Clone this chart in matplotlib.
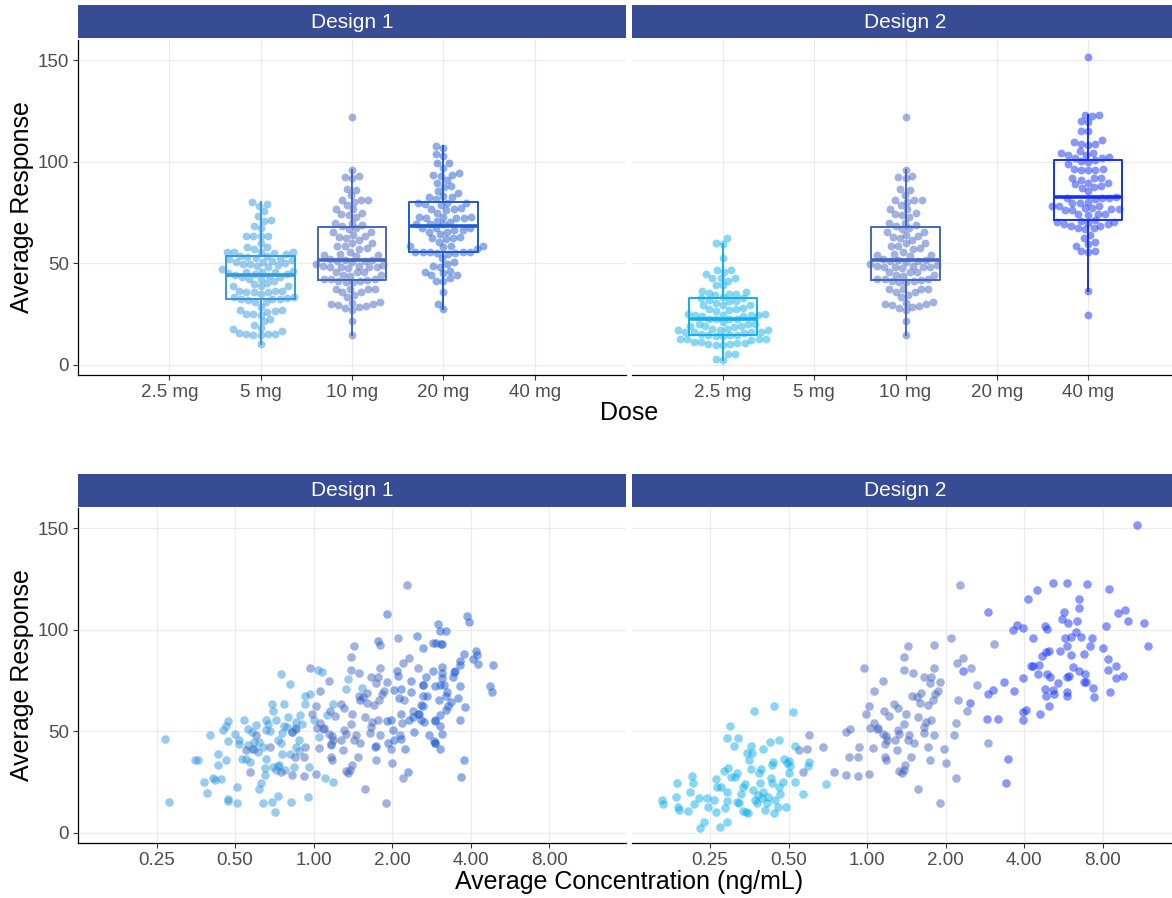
import numpy as np
import matplotlib.pyplot as plt

plt.rcParams['font.family'] = ['Liberation Sans', 'DejaVu Sans']

doses = ['2.5 mg', '5 mg', '10 mg', '20 mg', '40 mg']
dose_colors = {'2.5 mg': '#11AEEB', '5 mg': '#3399DD', '10 mg': '#4466C0',
               '20 mg': '#1E5BCF', '40 mg': '#1530F5'}

# Design 1, 5 mg
conc_5mg = [0.27, 0.28, 0.35, 0.36, 0.38, 0.39, 0.40, 0.41, 0.42, 0.44, 0.43, 0.43, 0.46, 0.45,
            0.46, 0.47, 0.47, 0.47, 0.47, 0.51, 0.51, 0.52, 0.52, 0.53, 0.54, 0.55, 0.56, 0.57,
            0.58, 0.59, 0.61, 0.62, 0.62, 0.63, 0.64, 0.65, 0.65, 0.66, 0.66, 0.67, 0.69, 0.69,
            0.70, 0.71, 0.72, 0.73, 0.73, 0.73, 0.74, 0.75, 0.75, 0.76, 0.77, 0.77, 0.78, 0.80,
            0.81, 0.81, 0.82, 0.83, 0.84, 0.86, 0.86, 0.88, 0.89, 0.93, 0.93, 0.95, 0.96, 0.97,
            1.04, 1.08, 1.35, 1.33, 1.54, 1.19, 1.13, 1.00, 1.05, 1.17, 1.11, 1.19,
            0.50, 0.56, 0.60, 0.64, 0.68, 0.72, 0.79, 0.85, 0.90, 0.58, 0.66, 0.76, 0.88, 0.70]
resp_5mg = [46.4, 15.3, 35.8, 36.1, 25.2, 19.8, 48.0, 26.8, 26.0, 26.3, 38.6, 33.3, 35.8, 50.8,
            52.5, 55.0, 45.3, 16.5, 15.8, 22.7, 14.5, 45.9, 44.0, 36.6, 55.4, 36.6, 43.1, 35.0,
            49.7, 44.8, 39.9, 44.8, 21.4, 24.7, 14.5, 28.4, 31.7, 36.6, 55.4, 53.8, 15.3, 63.6,
            32.5, 10.4, 30.9, 32.8, 18.1, 45.9, 33.3, 44.5, 78.3, 38.7, 63.6, 52.5, 30.9, 57.0,
            73.4, 38.7, 15.3, 49.7, 32.5, 54.4, 42.3, 45.9, 57.8, 67.6, 63.6, 17.5, 32.5, 68.5,
            80.2, 79.1, 75.8, 70.9, 71.2, 63.6, 57.8, 55.4, 47.2, 43.1, 26.8, 25.2,
            48.5, 51.0, 53.0, 42.5, 50.0, 55.8, 52.0, 51.5, 53.5, 41.5, 50.5, 49.0, 40.5, 60.0]

# 10 mg (same in both designs)
conc_10mg = [0.60, 0.55, 0.59, 0.57, 0.68, 0.75, 0.83, 0.83, 0.86, 0.85, 0.92, 0.93, 0.92, 0.97,
             1.02, 1.05, 1.03, 1.06, 1.02, 0.99, 1.06, 1.09, 1.10, 1.15, 1.16, 1.15, 1.18, 1.17,
             1.19, 1.21, 1.17, 1.18, 1.27, 1.28, 1.30, 1.31, 1.31, 1.33, 1.33, 1.36, 1.38, 1.39,
             1.39, 1.41, 1.43, 1.43, 1.39, 1.40, 1.45, 1.48, 1.49, 1.50, 1.51, 1.55, 1.57, 1.57,
             1.80, 2.10, 2.28, 1.66, 1.76, 1.74, 1.80, 1.91, 1.87, 1.83, 1.79, 1.71, 1.61, 1.60,
             1.76, 1.68, 1.66, 1.65, 1.80, 1.72, 1.98, 1.74, 2.00, 2.21, 2.33, 2.51, 2.23, 2.41,
             2.63, 2.19, 2.15, 2.91, 3.08, 2.20, 1.90]
resp_10mg = [48.0, 41.0, 41.5, 30.0, 42.3, 30.0, 28.4, 49.7, 51.3, 37.4, 37.4, 42.3, 27.9, 81.2,
             28.9, 41.8, 51.8, 69.8, 62.3, 58.3, 54.1, 51.3, 51.8, 74.7, 60.0, 48.5, 47.5, 44.0,
             45.6, 57.4, 37.4, 35.8, 63.6, 45.6, 40.7, 61.6, 50.8, 48.9, 30.5, 29.3, 31.2, 80.2,
             86.4, 58.3, 91.8, 45.6, 53.8, 33.3, 48.0, 37.4, 67.2, 78.8, 44.5, 66.8, 57.0, 21.4,
             92.5, 95.8, 122.0, 76.6, 76.6, 73.7, 81.2, 74.2, 70.1, 68.5, 65.5, 63.2, 68.8, 63.9,
             55.7, 54.6, 52.1, 49.3, 48.0, 42.3, 41.5, 35.8, 34.5, 83.5, 86.1, 81.2, 65.2, 60.0,
             73.0, 54.1, 48.4, 44.3, 93.0, 26.8, 14.8]

# Design 1, 20 mg
conc_20mg = [2.64, 2.86, 2.95, 3.10, 2.99, 3.06, 3.22, 3.87, 3.94, 3.79, 4.20, 4.08, 4.24, 4.26,
             3.63, 3.66, 3.47, 3.42, 3.10, 3.10, 3.10, 3.17, 3.06, 2.91, 2.86, 2.70, 2.64, 2.62,
             2.73, 2.58, 2.62, 2.54, 2.51, 2.58, 2.66, 2.91, 2.93, 3.06, 3.22, 3.27, 3.37, 3.59,
             3.63, 3.81, 3.66, 3.24, 3.22, 3.04, 3.06, 3.10, 2.89, 2.93, 3.06, 2.76, 3.79, 3.68,
             4.89, 4.76, 4.82, 3.50, 1.91, 2.49, 1.77, 2.09, 2.11, 2.36, 2.16, 2.04, 2.13, 2.36,
             2.33, 2.40, 2.16, 1.98, 1.91, 1.51, 1.73, 1.93, 2.04, 2.16, 2.01, 2.24, 2.30, 2.43]
resp_20mg = [91.0, 93.3, 93.3, 93.0, 103.1, 99.2, 99.5, 106.9, 103.9, 88.1, 89.4, 85.6, 87.7, 83.2,
             84.8, 82.7, 79.1, 77.0, 81.5, 78.6, 76.3, 73.0, 73.0, 72.5, 79.9, 76.6, 73.0, 67.2,
             67.6, 63.2, 62.4, 58.3, 58.3, 55.7, 54.6, 55.7, 55.0, 57.8, 60.6, 62.3, 64.4, 66.5,
             72.5, 61.9, 55.7, 69.3, 67.2, 65.5, 52.5, 48.9, 45.2, 44.3, 41.5, 48.4, 35.8, 27.6,
             82.7, 72.5, 69.3, 79.9, 107.7, 97.1, 94.6, 79.9, 77.5, 75.0, 70.9, 70.4, 66.5, 69.3,
             55.7, 57.0, 58.3, 55.7, 55.0, 65.5, 42.6, 44.3, 45.6, 46.4, 50.5, 41.5, 30.0, 49.7]

# Design 2, 2.5 mg
conc_2_5mg = [0.163, 0.165, 0.185, 0.187, 0.188, 0.19, 0.206, 0.209, 0.213, 0.216, 0.217, 0.226,
              0.229, 0.238, 0.243, 0.245, 0.259, 0.264, 0.264, 0.266, 0.272, 0.275, 0.283, 0.285,
              0.29, 0.291, 0.291, 0.294, 0.297, 0.291, 0.30, 0.31, 0.312, 0.316, 0.319, 0.318,
              0.322, 0.33, 0.334, 0.335, 0.341, 0.344, 0.348, 0.351, 0.354, 0.359, 0.359, 0.363,
              0.368, 0.366, 0.372, 0.377, 0.383, 0.386, 0.389, 0.391, 0.395, 0.398, 0.40, 0.406,
              0.412, 0.418, 0.424, 0.428, 0.431, 0.433, 0.437, 0.44, 0.44, 0.444, 0.457, 0.461,
              0.461, 0.464, 0.477, 0.48, 0.487, 0.492, 0.50, 0.502, 0.506, 0.52, 0.528, 0.528,
              0.566, 0.595, 0.599, 0.695]
resp_2_5mg = [16.2, 14.1, 17.8, 24.7, 12.9, 11.3, 10.8, 20.2, 27.9, 24.7, 14.1, 17.3,
              2.6, 5.5, 17.3, 12.9, 16.2, 26.3, 10.1, 22.7, 3.1, 22.7, 30.4, 12.1,
              5.1, 20.2, 15.7, 31.7, 52.6, 46.9, 27.6, 42.6, 27.6, 29.3, 46.9, 15.0,
              14.5, 19.0, 10.8, 22.7, 23.9, 10.4, 39.1, 9.9, 36.1, 42.6, 31.4, 39.5,
              59.8, 21.1, 16.2, 14.5, 18.6, 29.3, 24.7, 31.4, 17.3, 20.2, 41.5, 11.3,
              14.5, 17.8, 44.8, 26.8, 24.7, 33.3, 35.0, 62.3, 9.9, 16.2, 12.9, 22.7,
              45.9, 19.1, 25.2, 36.6, 12.9, 34.2, 29.6, 35.4, 32.8, 59.3, 42.6, 25.2,
              19.1, 32.8, 35.0, 24.0]

# Design 2, 40 mg
conc_40mg = [10.8, 2.92, 4.13, 4.49, 5.18, 5.84, 7.0, 8.48, 6.51, 6.47, 5.70, 5.59, 5.91, 6.41,
             4.83, 4.89, 3.75, 3.62, 3.95, 4.32, 9.13, 9.77, 10.05, 11.5, 12.0, 8.23, 8.06, 8.36,
             9.04, 8.36, 9.58, 9.0, 8.56, 7.38, 7.43, 6.32, 6.61, 7.28, 7.15, 6.81, 5.74, 6.05,
             5.87, 6.05, 5.50, 5.0, 4.86, 4.69, 6.14, 6.51, 6.86, 6.9, 6.78, 5.84, 5.95, 5.38,
             5.03, 4.89, 4.55, 4.51, 4.32, 4.25, 4.83, 5.15, 5.23, 4.86, 5.84, 5.84, 4.97, 4.61,
             4.07, 3.95, 3.98, 3.67, 3.36, 3.05, 2.92, 2.49, 2.88, 3.17, 2.33, 3.47, 3.95, 3.42]
resp_40mg = [151.7, 108.8, 115.0, 119.6, 122.9, 123.2, 122.7, 119.9, 115.3, 110.9, 109.0, 105.2,
             103.6, 104.4, 102.0, 100.3, 102.5, 99.8, 100.8, 96.2, 108.5, 109.7, 104.4, 103.3,
             92.2, 102.0, 91.0, 85.6, 82.0, 80.4, 77.1, 76.3, 69.3, 71.2, 66.8, 99.0, 96.6, 96.2,
             91.8, 88.1, 95.9, 96.6, 92.2, 87.6, 89.7, 89.7, 88.9, 87.3, 81.5, 79.6, 78.3, 74.2,
             74.5, 76.6, 77.5, 73.9, 76.6, 78.3, 82.7, 78.3, 82.4, 82.0, 70.9, 70.4, 68.5, 67.2,
             69.3, 67.6, 62.3, 58.7, 60.3, 59.5, 55.7, 70.1, 74.5, 70.6, 68.5, 64.1, 56.2, 56.2,
             79.9, 36.6, 76.3, 24.6]

designs = ['Design 1', 'Design 2']
groups = {
    'Design 1': [('5 mg', conc_5mg, resp_5mg), ('10 mg', conc_10mg, resp_10mg),
                 ('20 mg', conc_20mg, resp_20mg)],
    'Design 2': [('2.5 mg', conc_2_5mg, resp_2_5mg), ('10 mg', conc_10mg, resp_10mg),
                 ('40 mg', conc_40mg, resp_40mg)],
}
conc_ticks = [0.25, 0.5, 1, 2, 4, 8]

W, H = 1172, 898
STRIP = '#374C95'
GRID = '#EBEBEB'


def swarm(y, xscale, yscale, d):
    # simple beeswarm: offsets in data units, packed in pixel space
    y = np.asarray(y, dtype=float)
    off = np.zeros(len(y))
    placed = []
    for i in np.argsort(y, kind='stable'):
        yp = y[i] * yscale
        bad = []
        for xp, yq in placed:
            dy = abs(yp - yq)
            if dy < d:
                w = np.sqrt(d * d - dy * dy)
                bad.append((xp - w, xp + w))
        cands = [0.0] + [a for a, b in bad] + [b for a, b in bad]
        cands.sort(key=abs)
        for c in cands:
            if all(not (a + 1e-6 < c < b - 1e-6) for a, b in bad):
                break
        off[i] = c / xscale
        placed.append((c, yp))
    return off


def rect(x0, y0, x1, y1):
    return [x0 / W, 1 - y1 / H, (x1 - x0) / W, (y1 - y0) / H]


def style(ax, first):
    for s in ['top', 'right']:
        ax.spines[s].set_visible(False)
    ax.spines['left'].set_visible(first)
    for s in ['left', 'bottom']:
        ax.spines[s].set_linewidth(0.9)
        ax.spines[s].set_color('black')
    ax.set_ylim(-5, 160)
    ax.set_yticks([0, 50, 100, 150])
    ax.tick_params(axis='both', length=3.5, width=0.8, color='#333333',
                   labelsize=13.5, labelcolor='#4D4D4D', pad=3)
    if not first:
        ax.tick_params(axis='y', left=False, labelleft=False)
    ax.grid(True, color=GRID, linewidth=0.9)
    ax.set_axisbelow(True)


def strip(x0, y0, x1, y1, label):
    s = fig.add_axes(rect(x0, y0, x1, y1))
    s.set_facecolor(STRIP)
    s.set_xticks([])
    s.set_yticks([])
    for sp in s.spines.values():
        sp.set_visible(False)
    s.text(0.5, 0.48, label, color='white', fontsize=15, ha='center', va='center',
           transform=s.transAxes)


fig = plt.figure(figsize=(W / 100, H / 100), dpi=100)

panel_x = [(78, 626), (631.5, 1179.5)]
xpos = {d: i + 1 for i, d in enumerate(doses)}

for k, des in enumerate(designs):
    x0, x1 = panel_x[k]

    # top row: box + beeswarm by dose
    ax = fig.add_axes(rect(x0, 40, x1, 375))
    style(ax, k == 0)
    ax.set_xlim(0, 6)
    ax.set_xticks(range(1, 6))
    ax.set_xticklabels(doses)
    xscale = (x1 - x0) / 6
    yscale = 335 / 165
    for dose, conc, resp in groups[des]:
        col = dose_colors[dose]
        p = xpos[dose]
        ax.boxplot([resp], positions=[p], widths=0.75, whis=1.5, showfliers=False,
                   showcaps=False, manage_ticks=False, patch_artist=False,
                   boxprops=dict(color=col, linewidth=1.4),
                   whiskerprops=dict(color=col, linewidth=1.4),
                   medianprops=dict(color=col, linewidth=2.6), zorder=2)
        off = swarm(resp, xscale, yscale, 7.3)
        ax.scatter(p + off, resp, s=32, color=col, alpha=0.5, linewidths=0, zorder=3)
    strip(x0, 5, x1, 38.3, des)

    # bottom row: response vs concentration
    bx = fig.add_axes(rect(x0, 508, x1, 843))
    style(bx, k == 0)
    bx.set_xscale('log', base=2)
    bx.set_xlim(2 ** -3.0, 2 ** 3.98)
    bx.set_xticks(conc_ticks)
    bx.set_xticklabels(['%.2f' % c for c in conc_ticks])
    bx.minorticks_off()
    for dose, conc, resp in groups[des]:
        bx.scatter(conc, resp, s=38, color=dose_colors[dose], alpha=0.5, linewidths=0, zorder=3)
    strip(x0, 474, x1, 506.5, des)

fig.text(22 / W, 1 - 207.5 / H, 'Average Response', rotation=90, fontsize=18,
         ha='center', va='center')
fig.text(22 / W, 1 - 675.5 / H, 'Average Response', rotation=90, fontsize=18,
         ha='center', va='center')
fig.text(628.7 / W, 1 - 413 / H, 'Dose', fontsize=18, ha='center', va='center')
fig.text(628.7 / W, 1 - 882 / H, 'Average Concentration (ng/mL)', fontsize=18,
         ha='center', va='center')

fig.savefig('out.png', dpi=100)
